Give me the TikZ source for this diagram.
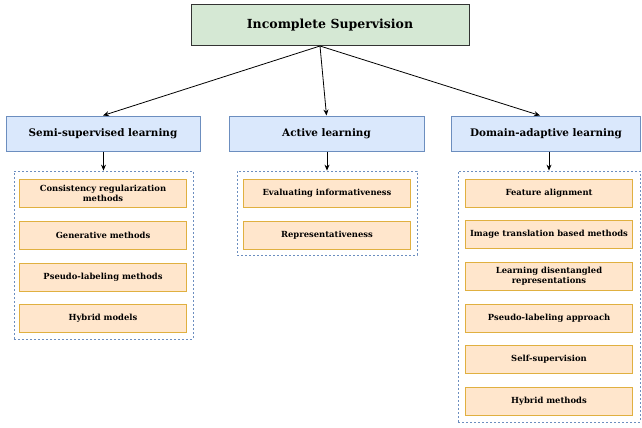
\documentclass[tikz,border=0pt]{standalone}
\usepackage{fontspec}
\setmainfont{DejaVu Serif}
\usetikzlibrary{arrows.meta,calc}
\definecolor{gfill}{HTML}{D5E8D4}
\definecolor{gline}{HTML}{333333}
\definecolor{bfill}{HTML}{DAE8FC}
\definecolor{bline}{HTML}{6C8EBF}
\definecolor{ofill}{HTML}{FFE6CC}
\definecolor{oline}{HTML}{E0B040}
\tikzset{
  rootbox/.style={draw=gline, fill=gfill, line width=1pt, minimum width=278pt, minimum height=41pt,
    inner sep=0pt, font=\fontsize{12.5}{15}\selectfont\bfseries},
  catbox/.style={draw=bline, fill=bfill, line width=1pt, minimum height=35pt,
    inner sep=0pt, font=\fontsize{10.4}{12}\selectfont\bfseries},
  groupbox/.style={draw=bline, dash pattern=on 2pt off 2pt, line width=0.8pt, inner sep=0pt},
  itembox/.style={draw=oline, fill=ofill, line width=0.9pt, minimum width=167pt, minimum height=28pt,
    inner sep=0pt, align=center, font=\fontsize{8.4}{10}\selectfont\bfseries},
  arr/.style={draw=black, line width=0.8pt, -{Stealth[length=6pt,width=5pt]}}
}
\begin{document}
\begin{tikzpicture}[x=1pt,y=-1pt]
\useasboundingbox (0,0) rectangle (642,428);

% root
\node[rootbox] (root) at (330,25.5) {Incomplete Supervision};
\coordinate (rootout) at (320,46);

% categories
\node[catbox, minimum width=194pt] (semi) at (103,133.5) {Semi-supervised learning};
\node[catbox, minimum width=195pt] (active) at (326.5,133.5) {Active learning};
\node[catbox, minimum width=189pt] (domain) at (546,133.5) {Domain-adaptive learning};

\draw[arr] (rootout) -- (semi.north);
\draw[arr] (rootout) -- (active.north);
\draw[arr] (rootout) -- ($(domain.north)+(-6,0)$);

% dashed groups
\node[groupbox, minimum width=179pt, minimum height=168pt] (lgroup) at (103.5,255) {};
\node[groupbox, minimum width=180pt, minimum height=84pt] (mgroup) at (327,213) {};
\node[groupbox, minimum width=182pt, minimum height=251pt] (rgroup) at (549,296.5) {};

\draw[arr] (lgroup.north |- semi.south) -- (lgroup.north);
\draw[arr] (mgroup.north |- active.south) -- (mgroup.north);
\draw[arr] (rgroup.north |- domain.south) -- (rgroup.north);

% semi-supervised methods
\node[itembox] (s1) at (103,193) {Consistency regularization\\methods};
\node[itembox] (s2) at (103,235) {Generative methods};
\node[itembox] (s3) at (103,277) {Pseudo-labeling methods};
\node[itembox] (s4) at (103,318) {Hybrid models};

% active learning criteria
\node[itembox] (a1) at (327,193) {Evaluating informativeness};
\node[itembox] (a2) at (327,235) {Representativeness};

% domain adaptation methods
\node[itembox] (d1) at (549,193) {Feature alignment};
\node[itembox] (d2) at (549,234) {Image translation based methods};
\node[itembox] (d3) at (549,276) {Learning disentangled\\representations};
\node[itembox] (d4) at (549,318) {Pseudo-labeling approach};
\node[itembox] (d5) at (549,359.5) {Self-supervision};
\node[itembox] (d6) at (549,401) {Hybrid methods};
\end{tikzpicture}
\end{document}
